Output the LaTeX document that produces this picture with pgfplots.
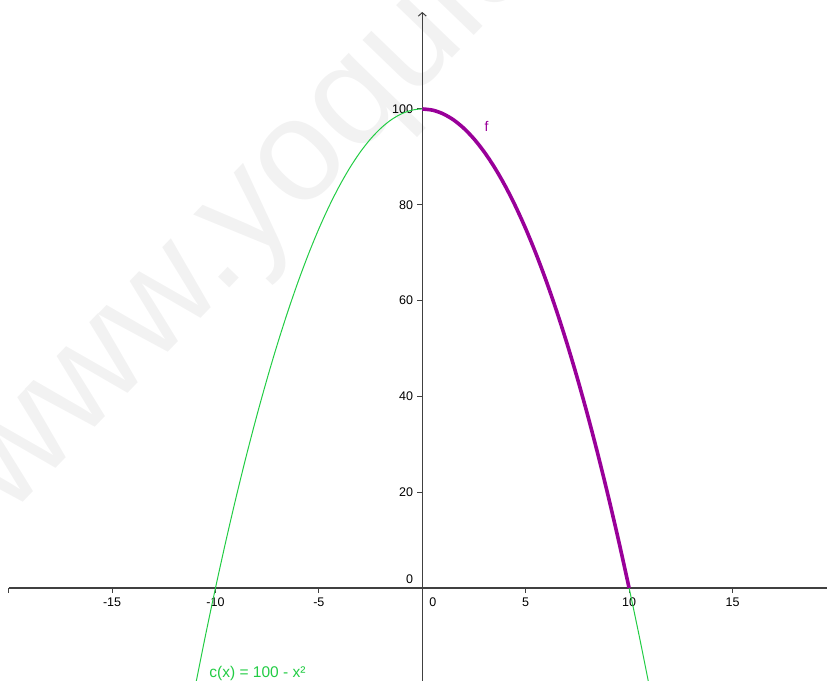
\documentclass[border=0pt]{standalone}
\usepackage{fontspec}
\setmainfont{Liberation Sans}
\usepackage{pgfplots}
\pgfplotsset{compat=1.18}
\usetikzlibrary{arrows.meta}
\definecolor{ggreen}{HTML}{22CC44}
\definecolor{gpurple}{HTML}{990099}
\definecolor{gaxis}{HTML}{404040}
\pgfdeclarelayer{background}
\pgfsetlayers{background,main}
\newcommand{\lab}{\fontsize{12.5bp}{15bp}\selectfont}

\begin{document}
\begin{tikzpicture}
\begin{axis}[
  name=ax, scale only axis, width=818.3bp, height=668.9bp,
  xmin=-20, xmax=19.57, ymin=-19.4, ymax=120.25,
  axis lines=middle,
  axis line style={gaxis, line width=1.1bp},
  x axis line style={-},
  y axis line style={-{Straight Barb[length=3.5bp,width=8bp,line width=1bp]}},
  tick style={gaxis, line width=1bp},
  major tick length=5bp, tick align=outside,
  xtick={-20,-15,-10,-5,0,5,10,15},
  xticklabels={,-15,-10,-5,,5,10,15},
  ytick={20,40,60,80,100},
  yticklabels={20,40,60,80,100},
  tick label style={font=\lab, inner sep=0pt},
  xticklabel style={anchor=north, yshift=-5bp},
  yticklabel style={anchor=east, xshift=-4bp},
  clip mode=individual,
]
\coordinate (bl) at (axis cs:-20.42,-19.4);
\coordinate (tr) at (axis cs:19.57,122.75);
\coordinate (wm) at (axis cs:-20.03,14.6);

\addplot[ggreen, line width=1bp, smooth] coordinates {
  (-11,-21) (-10.5,-10.25) (-10,0) (-9.5,9.75) (-9,19) (-8.5,27.75)
  (-8,36) (-7.5,43.75) (-7,51) (-6.5,57.75) (-6,64) (-5.5,69.75)
  (-5,75) (-4.5,79.75) (-4,84) (-3.5,87.75) (-3,91) (-2.5,93.75)
  (-2,96) (-1.5,97.75) (-1,99) (-0.5,99.75) (0,100)
  (0.5,99.75) (1,99) (1.5,97.75) (2,96) (2.5,93.75) (3,91)
  (3.5,87.75) (4,84) (4.5,79.75) (5,75) (5.5,69.75) (6,64)
  (6.5,57.75) (7,51) (7.5,43.75) (8,36) (8.5,27.75) (9,19)
  (9.5,9.75) (10,0) (10.5,-10.25) (11,-21)};

\addplot[gpurple, line width=3.6bp, smooth] coordinates {
  (0,100) (0.5,99.75) (1,99) (1.5,97.75) (2,96) (2.5,93.75) (3,91)
  (3.5,87.75) (4,84) (4.5,79.75) (5,75) (5.5,69.75) (6,64)
  (6.5,57.75) (7,51) (7.5,43.75) (8,36) (8.5,27.75) (9,19)
  (9.5,9.75) (10,0)};

\node[font=\fontsize{14bp}{16bp}\selectfont, text=gpurple, anchor=base west, inner sep=0pt] at (axis cs:3.0,95.3) {f};
\node[font=\fontsize{15.5bp}{18bp}\selectfont, text=ggreen, anchor=base west, inner sep=0pt] at (axis cs:-10.3,-18.64) {c(x) = 100 - x²};
\node[font=\lab, anchor=north, inner sep=0pt, xshift=10.5bp, yshift=-10bp] at (axis cs:0,0) {0};
\node[font=\lab, anchor=south east, inner sep=0pt, xshift=-9bp, yshift=4bp] at (axis cs:0,0) {0};
\end{axis}
\begin{pgfonlayer}{background}
\begin{scope}
\clip (bl) rectangle (tr);
\node[font=\fontsize{145bp}{170bp}\selectfont, text=black!5, rotate=46,
  anchor=base west, inner sep=0pt] at (wm) {www.yoquieroaprobar.es};
\end{scope}
\end{pgfonlayer}
\pgfresetboundingbox
\path[use as bounding box] (bl) rectangle (tr);
\end{tikzpicture}
\end{document}
